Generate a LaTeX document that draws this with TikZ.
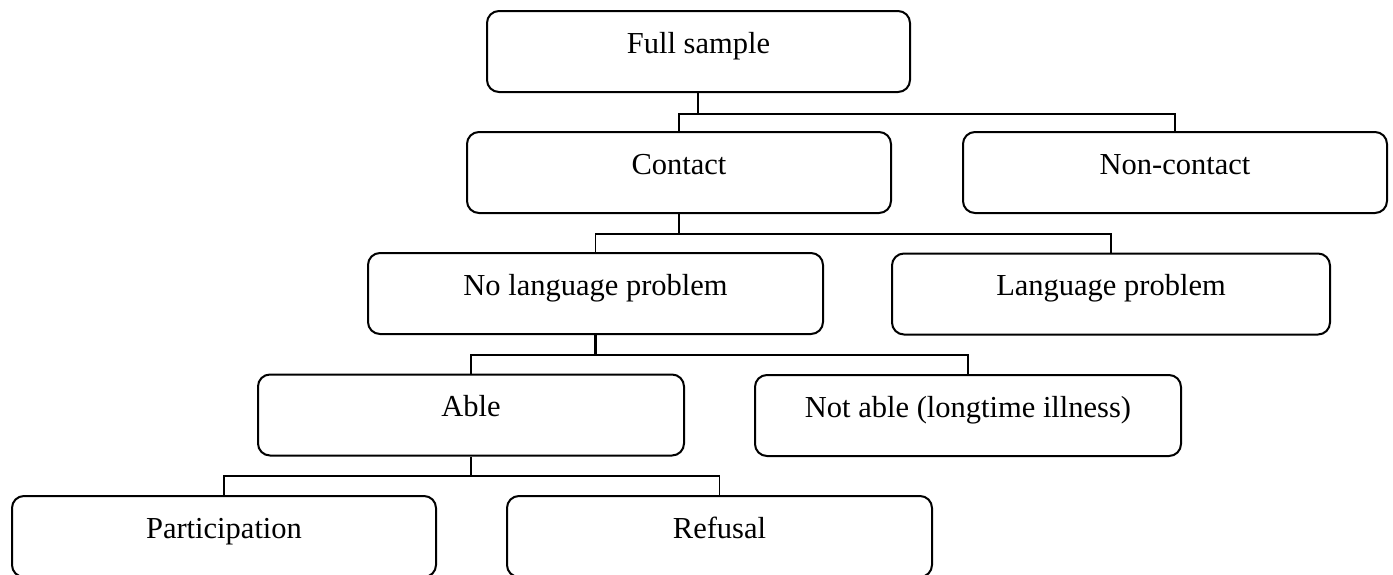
\documentclass[tikz,border=0pt]{standalone}
\usepackage{fontspec}
\setmainfont{Liberation Serif}
\begin{document}
\begin{tikzpicture}[x=1pt,y=-1pt,
  box/.style={draw, line width=2pt, rounded corners=12pt, minimum height=81pt,
    inner sep=0pt, text height=22pt, text depth=19pt,
    font=\fontsize{30.5pt}{36pt}\selectfont},
  trunk/.style={draw, line width=2.6pt},
  branch/.style={draw, line width=1.7pt}]
\useasboundingbox (0,0) rectangle (1393,574);

% boxes, level by level
\node[box, minimum width=423pt] (full)       at (698.5,51.5)  {Full sample};
\node[box, minimum width=424pt] (contact)    at (679,172.5)   {Contact};
\node[box, minimum width=424pt] (noncontact) at (1175,172.5)  {Non-contact};
\node[box, minimum width=455pt] (nolang)     at (595.5,293.5) {No language problem};
\node[box, minimum width=438pt] (lang)       at (1111,294)    {Language problem};
\node[box, minimum width=426pt] (able)       at (471,415)     {Able};
\node[box, minimum width=426pt] (notable)    at (968,415.5)   {Not able (longtime illness)};
\node[box, minimum width=424pt] (part)       at (224,536.5)   {Participation};
\node[box, minimum width=425pt] (refusal)    at (719.5,536.5) {Refusal};

% splits: short trunk below each parent, then a bar down to both children
\draw[trunk] ([xshift=-0.5pt]full.south) -- ++(0,21) coordinate (j1);
\draw[branch] (contact.north) |- (j1) -| (noncontact.north);

\draw[trunk] (contact.south) -- ++(0,20) coordinate (j2);
\draw[branch] (nolang.north) |- (j2) -| (lang.north);

\draw[trunk] (nolang.south) -- ++(0,20) coordinate (j3);
\draw[branch] (able.north) |- (j3) -| (notable.north);

\draw[trunk] (able.south) -- ++(0,19.5) coordinate (j4);
\draw[branch] (part.north) |- (j4) -| (refusal.north);
\end{tikzpicture}
\end{document}
